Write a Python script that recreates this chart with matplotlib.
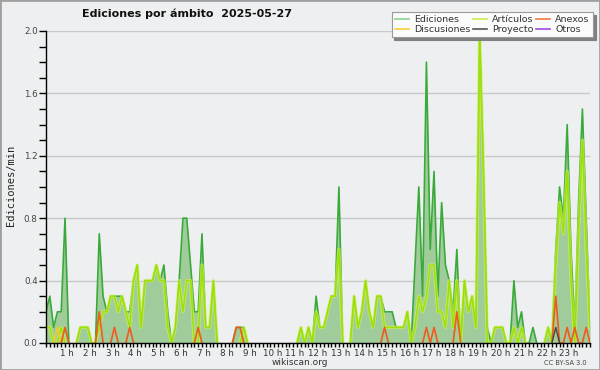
import numpy as np
import matplotlib.pyplot as plt
import matplotlib.transforms as mtransforms
from matplotlib.lines import Line2D
from matplotlib.patches import Rectangle
from matplotlib.ticker import MultipleLocator

# ediciones por minuto, una muestra cada 10 min (6 por hora)
ediciones = [
    0.2, 0.3, 0.1, 0.2, 0.2, 0.8,   # 0 h
    0.0, 0.0, 0.0, 0.1, 0.1, 0.1,   # 1 h
    0.0, 0.0, 0.7, 0.3, 0.2, 0.3,   # 2 h
    0.3, 0.3, 0.3, 0.2, 0.2, 0.4,   # 3 h
    0.5, 0.1, 0.4, 0.4, 0.4, 0.5,   # 4 h
    0.4, 0.5, 0.2, 0.0, 0.1, 0.4,   # 5 h
    0.8, 0.8, 0.5, 0.2, 0.2, 0.7,   # 6 h
    0.1, 0.1, 0.4, 0.0, 0.0, 0.0,   # 7 h
    0.0, 0.0, 0.1, 0.1, 0.1, 0.0,   # 8 h
    0.0, 0.0, 0.0, 0.0, 0.0, 0.0,   # 9 h
    0.0, 0.0, 0.0, 0.0, 0.0, 0.0,   # 10 h
    0.0, 0.1, 0.0, 0.1, 0.0, 0.3,   # 11 h
    0.1, 0.1, 0.2, 0.3, 0.3, 1.0,   # 12 h
    0.0, 0.0, 0.0, 0.3, 0.1, 0.2,   # 13 h
    0.4, 0.2, 0.1, 0.3, 0.3, 0.2,   # 14 h
    0.2, 0.2, 0.1, 0.1, 0.1, 0.2,   # 15 h
    0.0, 0.5, 1.0, 0.3, 1.8, 0.6,   # 16 h
    1.1, 0.3, 0.9, 0.5, 0.4, 0.2,   # 17 h
    0.6, 0.0, 0.4, 0.2, 0.3, 0.1,   # 18 h
    2.0, 1.1, 0.1, 0.0, 0.1, 0.1,   # 19 h
    0.1, 0.0, 0.0, 0.4, 0.1, 0.2,   # 20 h
    0.0, 0.0, 0.1, 0.0, 0.0, 0.0,   # 21 h
    0.1, 0.0, 0.6, 1.0, 0.8, 1.4,   # 22 h
    0.6, 0.1, 0.9, 1.5, 0.8, 0.1,   # 23 h
]

articulos = [
    0.1, 0.1, 0.0, 0.0, 0.1, 0.0,
    0.0, 0.0, 0.0, 0.1, 0.1, 0.1,
    0.0, 0.0, 0.1, 0.2, 0.2, 0.3,
    0.3, 0.2, 0.3, 0.2, 0.1, 0.4,
    0.5, 0.1, 0.4, 0.4, 0.4, 0.5,
    0.4, 0.4, 0.1, 0.0, 0.1, 0.4,
    0.2, 0.4, 0.4, 0.0, 0.0, 0.5,
    0.1, 0.1, 0.4, 0.0, 0.0, 0.0,
    0.0, 0.0, 0.0, 0.0, 0.1, 0.0,
    0.0, 0.0, 0.0, 0.0, 0.0, 0.0,
    0.0, 0.0, 0.0, 0.0, 0.0, 0.0,
    0.0, 0.1, 0.0, 0.1, 0.0, 0.2,
    0.1, 0.1, 0.2, 0.3, 0.3, 0.6,
    0.0, 0.0, 0.0, 0.3, 0.1, 0.2,
    0.4, 0.2, 0.1, 0.3, 0.3, 0.1,
    0.1, 0.1, 0.1, 0.1, 0.1, 0.2,
    0.0, 0.1, 0.3, 0.2, 0.3, 0.5,
    0.5, 0.2, 0.2, 0.1, 0.4, 0.1,
    0.4, 0.0, 0.4, 0.2, 0.3, 0.1,
    2.0, 1.1, 0.0, 0.0, 0.1, 0.1,
    0.1, 0.0, 0.0, 0.1, 0.0, 0.1,
    0.0, 0.0, 0.0, 0.0, 0.0, 0.0,
    0.1, 0.0, 0.5, 0.9, 0.7, 1.1,
    0.4, 0.0, 0.7, 1.3, 0.6, 0.1,
]

anexos = [
    0, 0, 0, 0, 0, 0.1,
    0, 0, 0, 0, 0, 0,
    0, 0, 0.2, 0, 0, 0,
    0.1, 0, 0, 0, 0.1, 0,
    0, 0, 0, 0, 0, 0,
    0, 0, 0, 0, 0, 0,
    0, 0, 0, 0, 0.1, 0,
    0, 0, 0, 0, 0, 0,
    0, 0, 0.1, 0.1, 0, 0,
    0, 0, 0, 0, 0, 0,
    0, 0, 0, 0, 0, 0,
    0, 0, 0, 0, 0, 0,
    0, 0, 0, 0, 0, 0,
    0, 0, 0, 0, 0, 0,
    0, 0, 0, 0, 0, 0.1,
    0, 0, 0, 0, 0, 0,
    0, 0, 0, 0, 0.1, 0,
    0.1, 0, 0, 0, 0, 0,
    0.2, 0, 0, 0, 0, 0,
    0, 0, 0, 0, 0, 0,
    0, 0, 0, 0, 0, 0,
    0, 0, 0, 0, 0, 0,
    0, 0, 0.3, 0, 0, 0.1,
    0, 0.1, 0, 0, 0.1, 0,
]

discusiones = [0, 0, 0, 0.1, 0, 0] + [0] * 138
proyecto = [0] * 134 + [0.1] + [0] * 9
otros = [0] * 144

horas = [f"{h} h" for h in range(1, 24)]

t = np.arange(len(ediciones)) / 6.0


def sin_ceros(y):
    # no dibujar los tramos planos en cero (quedan bajo el eje)
    y = np.asarray(y, dtype=float)
    prev = np.r_[0, y[:-1]]
    nxt = np.r_[y[1:], 0]
    return np.ma.masked_where((y == 0) & (prev == 0) & (nxt == 0), y)


fig = plt.figure(figsize=(6, 3.7), dpi=100)
fig.patch.set_facecolor('#eeeff0')
ax = fig.add_axes([46 / 600, 1 - 343 / 370, 544 / 600, 312 / 370])
ax.set_facecolor('#eeeff0')

ax.fill_between(t, 0, ediciones, color='#a0cc9c', lw=0, zorder=1)
ax.plot(t, sin_ceros(ediciones), color='#3aaa3a', lw=1.2, zorder=3)
ax.plot(t, sin_ceros(articulos), color='#ccf25a', lw=2.4, alpha=0.7, zorder=3)
ax.plot(t, sin_ceros(articulos), color='#9ee000', lw=1.0, zorder=3)
ax.plot(t, sin_ceros(discusiones), color='#f2c92a', lw=1.2, zorder=4)
ax.plot(t, sin_ceros(anexos), color='#f05a1e', lw=1.2, zorder=4)
ax.plot(t, sin_ceros(proyecto), color='#444444', lw=1.0, zorder=4)
ax.plot(t, sin_ceros(otros), color='#9b4de0', lw=1.0, zorder=4)

ax.set_xlim(0, t[-1])
ax.set_ylim(0, 2.0)

for s in ['top', 'right']:
    ax.spines[s].set_visible(False)
for s in ['left', 'bottom']:
    ax.spines[s].set_color('black')
    ax.spines[s].set_linewidth(1.0)
    ax.spines[s].set_zorder(6)

ax.yaxis.set_major_locator(MultipleLocator(0.4))
ax.yaxis.set_minor_locator(MultipleLocator(0.1))
ax.set_yticklabels([f"{v:.1f}" for v in ax.get_yticks()])
ax.yaxis.grid(True, color='#c9c9c9', lw=1)
ax.set_axisbelow(True)

ax.set_xticks(range(1, 24))
ax.set_xticklabels(horas)
ax.xaxis.set_minor_locator(MultipleLocator(1 / 6))
ax.tick_params(axis='x', which='both', length=3, width=1, pad=1, labelsize=6.3, labelcolor='#333333')
ax.tick_params(axis='y', which='both', length=5, width=1, pad=1, labelsize=6.3, labelcolor='#444444')
offset = mtransforms.ScaledTranslation(-2 / 100, 0, fig.dpi_scale_trans)
for lab in ax.get_xticklabels():
    lab.set_transform(lab.get_transform() + offset)

fig.text(0.312, 0.962, 'Ediciones por ámbito  2025-05-27', ha='center', va='center',
         fontsize=8, fontweight='bold', color='#111111')
fig.text(0.018, 0.5, 'Ediciones/min', rotation=90, ha='center', va='center',
         fontsize=7.5, family='DejaVu Sans Mono', color='#222222')
fig.text(0.5, 0.02, 'wikiscan.org', ha='center', va='center', fontsize=6.5, color='#333333')
fig.text(0.978, 0.02, 'CC BY-SA 3.0', ha='right', va='center', fontsize=4.8, color='#444444')

handles = [
    Line2D([], [], color='#8fd08f', lw=1.2),
    Line2D([], [], color='#f5d23a', lw=1.2),
    Line2D([], [], color='#c6f04a', lw=1.2),
    Line2D([], [], color='#555555', lw=1.2),
    Line2D([], [], color='#f07a40', lw=1.2),
    Line2D([], [], color='#9b4de0', lw=1.2),
]
etiquetas = ['Ediciones', 'Discusiones', 'Artículos', 'Proyecto', 'Anexos', 'Otros']
leg = fig.legend(handles, etiquetas, ncol=3, loc='upper right', bbox_to_anchor=(0.988, 0.968),
                 fontsize=6.8, frameon=True, fancybox=False, shadow={'color': '#808080', 'alpha': 1},
                 handlelength=1.5, handletextpad=0.5, columnspacing=0.3, labelspacing=0.1,
                 borderpad=0.35, borderaxespad=0)
leg.get_frame().set_facecolor('#fbfbfb')
leg.get_frame().set_edgecolor('#9a9a9a')
leg.get_frame().set_linewidth(0.8)
for txt in leg.get_texts():
    txt.set_color('#333333')

fig.patches.append(Rectangle((0, 0), 1, 1, transform=fig.transFigure, fill=False,
                             ec='#a0a0a0', lw=2))

fig.savefig('out.png', dpi=100, facecolor=fig.get_facecolor())
